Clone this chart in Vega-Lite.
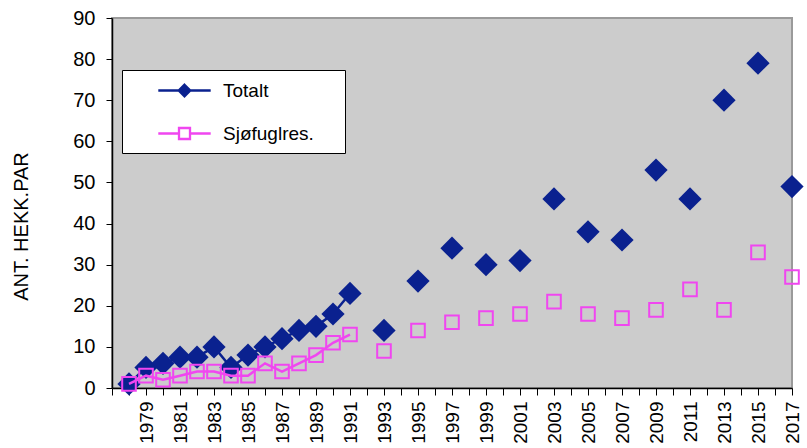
{
  "$schema": "https://vega.github.io/schema/vega-lite/v6.json",
  "width": 680,
  "height": 370,
  "autosize": {"type": "none"},
  "padding": {"left": 112, "top": 18, "right": 15, "bottom": 60},
  "background": "white",
  "config": {
    "view": {"fill": "#cccccc", "stroke": "#9a9a9a", "strokeWidth": 2},
    "font": "Liberation Sans",
    "axis": {"labelFont": "Liberation Sans", "titleFont": "Liberation Sans", "labelColor": "black", "titleColor": "black", "domainColor": "black", "tickColor": "black", "grid": false, "domainWidth": 1.5, "tickWidth": 1}
  },
  "data": {
    "values": [
      {"year": 1978, "series": "Totalt", "value": 1},
      {"year": 1979, "series": "Totalt", "value": 5},
      {"year": 1980, "series": "Totalt", "value": 6},
      {"year": 1981, "series": "Totalt", "value": 7.5},
      {"year": 1982, "series": "Totalt", "value": 7.5},
      {"year": 1983, "series": "Totalt", "value": 10},
      {"year": 1984, "series": "Totalt", "value": 5},
      {"year": 1985, "series": "Totalt", "value": 8},
      {"year": 1986, "series": "Totalt", "value": 10},
      {"year": 1987, "series": "Totalt", "value": 12},
      {"year": 1988, "series": "Totalt", "value": 14},
      {"year": 1989, "series": "Totalt", "value": 15},
      {"year": 1990, "series": "Totalt", "value": 18},
      {"year": 1991, "series": "Totalt", "value": 23},
      {"year": 1993, "series": "Totalt", "value": 14},
      {"year": 1995, "series": "Totalt", "value": 26},
      {"year": 1997, "series": "Totalt", "value": 34},
      {"year": 1999, "series": "Totalt", "value": 30},
      {"year": 2001, "series": "Totalt", "value": 31},
      {"year": 2003, "series": "Totalt", "value": 46},
      {"year": 2005, "series": "Totalt", "value": 38},
      {"year": 2007, "series": "Totalt", "value": 36},
      {"year": 2009, "series": "Totalt", "value": 53},
      {"year": 2011, "series": "Totalt", "value": 46},
      {"year": 2013, "series": "Totalt", "value": 70},
      {"year": 2015, "series": "Totalt", "value": 79},
      {"year": 2017, "series": "Totalt", "value": 49},
      {"year": 1978, "series": "Sjøfuglres.", "value": 1},
      {"year": 1979, "series": "Sjøfuglres.", "value": 3},
      {"year": 1980, "series": "Sjøfuglres.", "value": 2},
      {"year": 1981, "series": "Sjøfuglres.", "value": 3},
      {"year": 1982, "series": "Sjøfuglres.", "value": 4},
      {"year": 1983, "series": "Sjøfuglres.", "value": 4},
      {"year": 1984, "series": "Sjøfuglres.", "value": 3},
      {"year": 1985, "series": "Sjøfuglres.", "value": 3},
      {"year": 1986, "series": "Sjøfuglres.", "value": 6},
      {"year": 1987, "series": "Sjøfuglres.", "value": 4},
      {"year": 1988, "series": "Sjøfuglres.", "value": 6},
      {"year": 1989, "series": "Sjøfuglres.", "value": 8},
      {"year": 1990, "series": "Sjøfuglres.", "value": 11},
      {"year": 1991, "series": "Sjøfuglres.", "value": 13},
      {"year": 1993, "series": "Sjøfuglres.", "value": 9},
      {"year": 1995, "series": "Sjøfuglres.", "value": 14},
      {"year": 1997, "series": "Sjøfuglres.", "value": 16},
      {"year": 1999, "series": "Sjøfuglres.", "value": 17},
      {"year": 2001, "series": "Sjøfuglres.", "value": 18},
      {"year": 2003, "series": "Sjøfuglres.", "value": 21},
      {"year": 2005, "series": "Sjøfuglres.", "value": 18},
      {"year": 2007, "series": "Sjøfuglres.", "value": 17},
      {"year": 2009, "series": "Sjøfuglres.", "value": 19},
      {"year": 2011, "series": "Sjøfuglres.", "value": 24},
      {"year": 2013, "series": "Sjøfuglres.", "value": 19},
      {"year": 2015, "series": "Sjøfuglres.", "value": 33},
      {"year": 2017, "series": "Sjøfuglres.", "value": 27}
    ]
  },
  "encoding": {
    "x": {
      "field": "year", "type": "quantitative",
      "scale": {"domain": [1977, 2017], "nice": false, "zero": false},
      "axis": {
        "title": null,
        "values": [1977,1978,1979,1980,1981,1982,1983,1984,1985,1986,1987,1988,1989,1990,1991,1992,1993,1994,1995,1996,1997,1998,1999,2000,2001,2002,2003,2004,2005,2006,2007,2008,2009,2010,2011,2012,2013,2014,2015,2016,2017],
        "format": "d",
        "labelExpr": "(datum.value % 2 === 1 && datum.value > 1977) ? datum.label : ''",
        "labelAngle": 270,
        "labelAlign": "right",
        "labelBaseline": "middle",
        "labelFontSize": 19,
        "labelPadding": 6,
        "labelOverlap": false,
        "labelFlush": false,
        "labelBound": false,
        "tickSize": 7
      }
    },
    "y": {
      "field": "value", "type": "quantitative",
      "scale": {"domain": [0, 90], "nice": false},
      "axis": {
        "title": "ANT. HEKK.PAR",
        "values": [0,10,20,30,40,50,60,70,80,90],
        "labelFontSize": 20,
        "labelPadding": 11,
        "tickSize": 6,
        "titleFontSize": 20,
        "titleFontWeight": "normal",
        "titleAngle": 270,
        "titleAlign": "center",
        "titleBaseline": "middle",
        "titleX": -91,
        "titleY": 208
      }
    }
  },
  "layer": [
    {
      "transform": [{"filter": "datum.series === 'Totalt' && datum.year <= 1991"}],
      "mark": {"type": "line", "strokeWidth": 2.5},
      "encoding": {
        "stroke": {
          "field": "series", "type": "nominal",
          "scale": {"domain": ["Totalt", "Sjøfuglres."], "range": ["#0a218f", "#f046f0"]},
          "legend": {
            "title": " ",
            "titleOrient": "right",
            "titlePadding": 22,
            "titleFontSize": 2,
            "orient": "none",
            "legendX": 10,
            "legendY": 52,
            "padding": 9,
            "fillColor": "white",
            "strokeColor": "black",
            "symbolSize": 400,
            "symbolOffset": 42,
            "labelOffset": 27,
            "rowPadding": 21,
            "labelFontSize": 19,
            "labelFont": "Liberation Sans",
            "labelColor": "black",
            "encode": {
              "symbols": {
                "update": {
                  "shape": [{"test": "datum.value === 'Totalt'", "value": "M-2.62,0H2.62M0,-0.58L0.58,0L0,0.58L-0.58,0Z"}, {"value": "M-2.62,0H-0.55M0.55,0H2.62M-0.55,-0.55H0.55V0.55H-0.55Z"}],
                  "fill": [{"test": "datum.value === 'Totalt'", "value": "#0a218f"}, {"value": "transparent"}],
                  "stroke": [{"test": "datum.value === 'Totalt'", "value": "#0a218f"}, {"value": "#f046f0"}],
                  "strokeWidth": {"value": 2.3}
                }
              }
            }
          }
        }
      }
    },
    {
      "transform": [{"filter": "datum.series === 'Totalt'"}],
      "mark": {"type": "point", "shape": "diamond", "filled": true, "size": 540, "color": "#0a218f", "opacity": 1, "strokeWidth": 0},
      "encoding": {}
    },
    {
      "transform": [{"filter": "datum.series === 'Sjøfuglres.' && datum.year <= 1991"}],
      "mark": {"type": "line", "strokeWidth": 2.5},
      "encoding": {
        "stroke": {"field": "series", "type": "nominal"}
      }
    },
    {
      "transform": [{"filter": "datum.series === 'Sjøfuglres.'"}],
      "mark": {"type": "point", "shape": "square", "filled": false, "size": 185, "stroke": "#f046f0", "strokeWidth": 2, "opacity": 1},
      "encoding": {}
    }
  ]
}
